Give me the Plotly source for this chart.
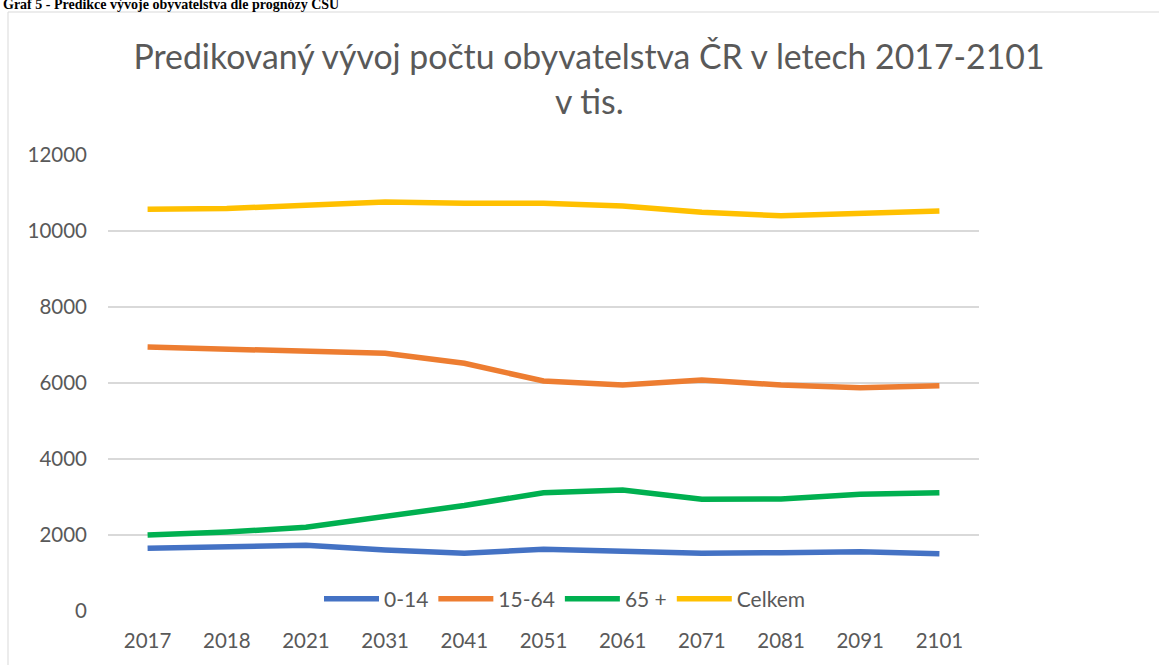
import plotly.graph_objects as go

years = ["2017", "2018", "2021", "2031", "2041", "2051", "2061", "2071", "2081", "2091", "2101"]
age_0_14 = [1649, 1675, 1728, 1605, 1518, 1623, 1588, 1518, 1535, 1561, 1509]
age_15_64 = [6947, 6895, 6807, 6781, 6518, 6053, 5947, 6079, 5947, 5877, 5930]
age_65_plus = [2000, 2079, 2202, 2482, 2775, 3114, 3184, 2939, 2947, 3070, 3114]
total = [10575, 10590, 10680, 10763, 10728, 10728, 10658, 10491, 10403, 10456, 10526]

series_names = ["0-14", "15-64", "65 +", "Celkem"]
series_values = [age_0_14, age_15_64, age_65_plus, total]
colors = ["#4472C4", "#ED7D31", "#00B050", "#FFC000"]

FONT = "Lato"
TXT = "#595959"

# plot area in pixels
L, R, T, B = 108, 979, 155, 611
W, H = R - L, B - T


def px(x):
    return (x - L) / W


def py(y):
    return (B - y) / H


fig = go.Figure()
for name, vals, col in zip(series_names, series_values, colors):
    fig.add_trace(go.Scatter(x=years, y=vals, name=name, mode="lines",
                             line=dict(color=col, width=5.5)))

fig.update_layout(
    width=1159, height=665,
    margin=dict(l=L, r=1159 - R, t=T, b=665 - B),
    paper_bgcolor="white", plot_bgcolor="white",
    font=dict(family=FONT, color=TXT, size=20),
    title=dict(text="Predikovaný vývoj počtu obyvatelstva ČR v letech 2017-2101",
               x=589/1159, xanchor="center", xref="container",
               y=1-57/665, yanchor="middle", yref="container",
               font=dict(family=FONT, size=33.8, color=TXT)),
    xaxis=dict(type="category", range=[-0.5, len(years) - 0.5],
               showgrid=False, showline=False, ticks="",
               tickfont=dict(size=20.5, color=TXT), ticklabelstandoff=15),
    yaxis=dict(range=[0, 12000], dtick=2000, tickformat="d", showgrid=True,
               gridcolor="#D9D9D9", gridwidth=1.5, zeroline=False, showline=False,
               ticks="", tickfont=dict(size=20.5, color=TXT), ticklabelstandoff=20),
    legend=dict(orientation="h", x=px(565), xanchor="center",
                y=py(599), yanchor="middle", bgcolor="rgba(0,0,0,0)",
                font=dict(size=21, color=TXT), itemwidth=55),
    showlegend=True,
)

fig.add_annotation(text="v tis.", xref="paper", yref="paper",
                   x=px(589), xanchor="center", y=py(101), yanchor="middle",
                   showarrow=False, font=dict(family=FONT, size=33.8, color=TXT))

fig.add_annotation(text="<b>Graf 5 - Predikce vývoje obyvatelstva dle prognózy ČSÚ</b>",
                   xref="paper", yref="paper", x=px(1), xanchor="left",
                   y=py(4.5), yanchor="middle", showarrow=False,
                   font=dict(family="Liberation Serif", size=14, color="black"))

fig.add_shape(type="rect", xref="paper", yref="paper",
              x0=px(8), x1=1.6, y0=-0.5, y1=py(12),
              line=dict(color="#D9D9D9", width=1), fillcolor="rgba(0,0,0,0)", layer="below")

fig.write_html("out.html", config={"displayModeBar": False},
               post_script="document.body.style.margin='0';")
